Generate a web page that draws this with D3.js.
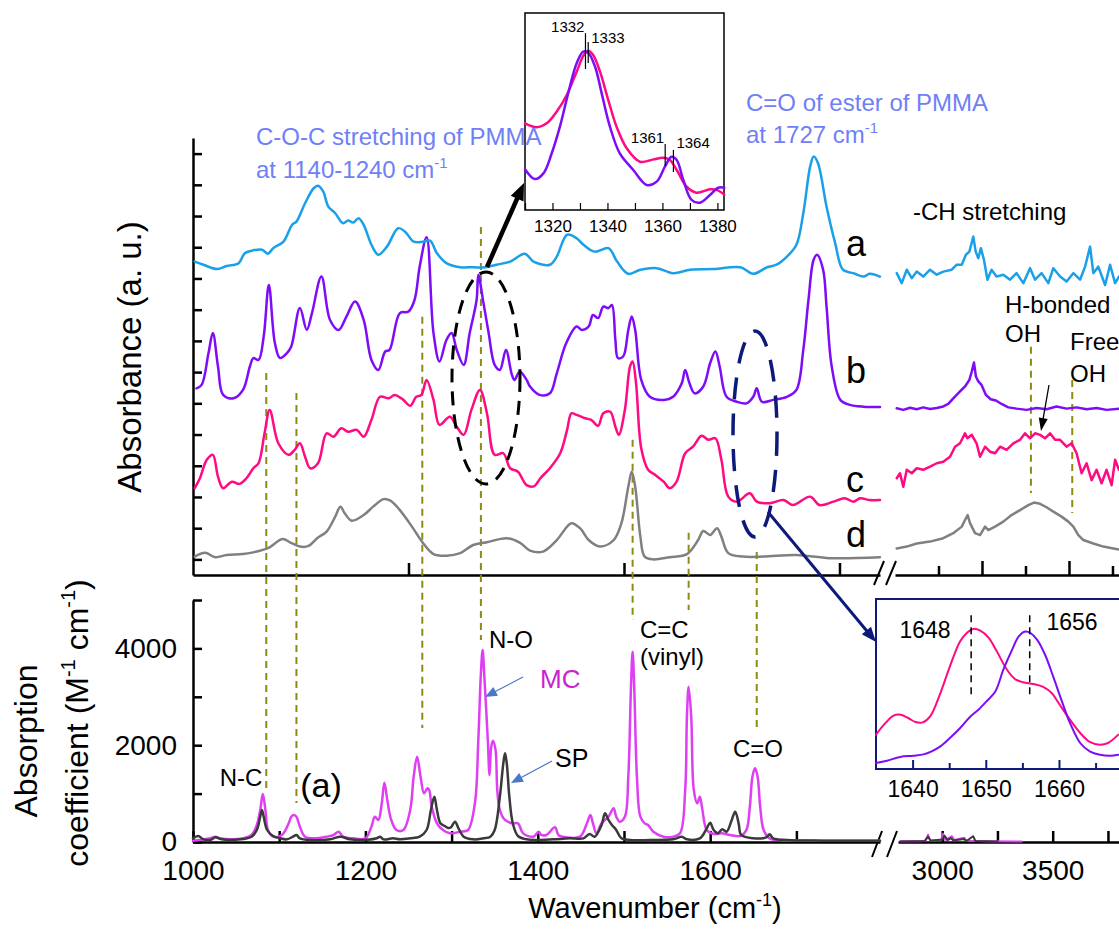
<!DOCTYPE html>
<html>
<head>
<meta charset="utf-8">
<script src="https://cdn.jsdelivr.net/npm/d3@7"></script>
<style>
  body { margin: 0; background: #fff; }
  svg { display: block; }
  text { font-family: "Liberation Sans", Arial, Helvetica, sans-serif; fill: #000; }
</style>
</head>
<body>
<svg id="chart" width="1119" height="929"></svg>
<script>
// ------------------------------------------------------------
// Data: FTIR spectra (upper, a.u.) and computed spectra (lower)
// ------------------------------------------------------------

// upper panel, 1000-1800 cm-1, [wavenumber, absorbance a.u.]
const specA = [[1002,10.04],[1012,9.94],[1028,9.80],[1039,9.90],[1053,9.99],[1060,10.31],[1068,10.39],[1080,10.42],[1087,10.29],[1093,10.47],[1105,10.68],[1115,11.22],[1120,11.32],[1130,11.91],[1140,12.39],[1145,12.47],[1151,12.29],[1157,11.80],[1165,11.59],[1174,11.27],[1180,11.36],[1186,11.29],[1192,11.43],[1198,11.22],[1207,10.58],[1215,10.26],[1225,10.52],[1238,11.11],[1246,11.00],[1256,10.68],[1267,10.68],[1275,10.71],[1283,10.31],[1294,9.99],[1310,9.86],[1325,9.86],[1337,9.85],[1352,9.94],[1368,10.04],[1385,10.29],[1395,10.04],[1414,9.94],[1422,10.20],[1434,10.90],[1445,10.79],[1453,10.58],[1466,10.36],[1482,10.47],[1492,10.04],[1505,9.65],[1519,9.78],[1538,9.83],[1557,9.67],[1577,9.78],[1604,9.80],[1635,9.86],[1650,9.65],[1666,9.86],[1677,9.94],[1689,10.20],[1700,10.58],[1708,11.59],[1716,13.09],[1720,13.41],[1725,13.20],[1735,11.80],[1745,10.63],[1754,9.78],[1766,9.67],[1778,9.56],[1785,9.65],[1797,9.56]];

const specB = [[1004,5.98],[1010,6.09],[1018,7.11],[1023,7.75],[1029,6.68],[1035,5.77],[1047,5.66],[1058,5.93],[1066,6.68],[1070,6.95],[1076,6.89],[1082,7.64],[1088,9.29],[1095,7.43],[1101,6.95],[1109,7.11],[1114,7.32],[1124,8.55],[1132,7.85],[1138,8.39],[1149,9.56],[1159,8.17],[1169,7.85],[1178,8.28],[1188,8.76],[1198,8.17],[1207,6.89],[1215,6.57],[1223,7.16],[1228,7.21],[1240,8.39],[1250,8.44],[1257,8.81],[1263,9.88],[1271,10.82],[1279,7.75],[1286,6.84],[1294,7.53],[1300,7.75],[1306,7.21],[1314,6.73],[1321,7.75],[1329,8.81],[1331,9.62],[1337,8.71],[1343,7.75],[1350,6.73],[1356,6.57],[1363,7.21],[1370,6.41],[1373,6.25],[1379,6.52],[1387,6.25],[1391,6.04],[1402,5.77],[1414,5.82],[1422,6.46],[1433,7.43],[1445,7.96],[1451,7.85],[1459,7.96],[1464,8.33],[1470,8.23],[1476,8.60],[1482,8.55],[1486,8.65],[1490,7.53],[1493,6.95],[1499,7.00],[1505,7.85],[1509,8.28],[1513,7.85],[1520,6.25],[1530,5.71],[1546,5.61],[1557,5.71],[1567,6.14],[1571,6.57],[1576,6.14],[1582,5.82],[1592,6.04],[1600,6.79],[1606,7.16],[1611,6.68],[1619,5.71],[1631,5.55],[1642,5.50],[1650,5.71],[1654,5.98],[1660,5.55],[1673,5.61],[1689,5.71],[1700,5.93],[1708,7.21],[1714,8.81],[1720,10.10],[1724,10.26],[1731,9.78],[1735,8.60],[1741,6.68],[1751,5.61],[1762,5.45],[1778,5.39],[1797,5.38]];

const specC = [[1002,2.78],[1008,3.10],[1016,3.69],[1023,3.85],[1029,3.15],[1035,2.78],[1045,2.99],[1054,2.92],[1062,3.10],[1070,3.42],[1076,3.58],[1083,4.54],[1089,5.29],[1099,4.22],[1111,3.85],[1118,4.01],[1124,4.22],[1130,3.79],[1136,3.42],[1145,3.58],[1155,4.54],[1163,4.43],[1172,4.70],[1180,4.59],[1190,4.65],[1198,4.43],[1207,4.97],[1217,5.71],[1227,5.66],[1234,5.77],[1244,5.61],[1252,5.42],[1259,5.71],[1265,5.77],[1271,6.25],[1279,5.61],[1286,4.81],[1298,5.07],[1306,4.75],[1314,4.49],[1323,5.29],[1333,5.93],[1341,5.18],[1350,3.85],[1360,3.90],[1368,3.42],[1377,3.31],[1387,2.88],[1396,2.85],[1403,3.10],[1414,3.42],[1426,3.90],[1434,4.65],[1439,5.18],[1445,5.13],[1455,5.02],[1462,4.97],[1470,4.78],[1476,5.18],[1484,5.23],[1490,4.75],[1494,4.49],[1501,5.29],[1507,6.68],[1510,6.84],[1514,6.14],[1520,4.06],[1528,3.37],[1536,3.21],[1546,2.99],[1553,2.78],[1561,2.99],[1571,3.90],[1580,4.11],[1590,4.46],[1598,4.33],[1606,4.38],[1613,3.69],[1621,2.51],[1631,2.35],[1646,2.62],[1654,2.35],[1669,2.30],[1685,2.40],[1696,2.24],[1716,2.51],[1727,2.24],[1743,2.35],[1756,2.46],[1766,2.35],[1774,2.46],[1785,2.40],[1797,2.40]];

const specD = [[1002,0.59],[1014,0.71],[1026,0.57],[1039,0.64],[1058,0.67],[1074,0.75],[1087,0.86],[1104,1.15],[1113,1.04],[1124,0.91],[1134,0.93],[1144,1.18],[1155,1.39],[1165,1.87],[1171,2.19],[1176,1.98],[1184,1.74],[1198,1.92],[1209,2.19],[1221,2.43],[1229,2.38],[1240,2.08],[1254,1.55],[1267,1.02],[1279,0.67],[1294,0.62],[1310,0.70],[1325,0.96],[1341,1.05],[1364,1.18],[1379,1.04],[1391,0.78],[1406,0.75],[1422,1.12],[1434,1.55],[1439,1.66],[1449,1.50],[1459,1.12],[1472,0.91],[1488,1.12],[1497,1.66],[1505,2.83],[1509,3.31],[1513,2.83],[1519,1.23],[1524,0.59],[1534,0.50],[1553,0.57],[1573,0.67],[1586,1.12],[1592,1.41],[1600,1.28],[1608,1.50],[1613,1.23],[1621,0.70],[1638,0.59],[1662,0.59],[1700,0.64],[1739,0.54],[1797,0.57]];

// upper panel, 2800-3830 cm-1
const specAHigh = [[2808,9.67],[2831,9.35],[2854,9.78],[2877,9.51],[2900,9.72],[2930,9.56],[2961,9.78],[2992,9.62],[3022,9.72],[3061,9.78],[3084,9.94],[3107,9.94],[3126,10.26],[3142,10.36],[3160,10.84],[3171,10.36],[3183,10.15],[3195,10.47],[3209,10.10],[3225,9.46],[3244,9.78],[3267,9.56],[3298,9.62],[3329,9.46],[3359,9.67],[3390,9.35],[3421,9.83],[3444,9.46],[3474,9.67],[3505,9.35],[3528,9.83],[3559,9.56],[3589,9.40],[3620,9.67],[3651,9.46],[3674,9.88],[3697,10.52],[3712,9.67],[3735,9.88],[3766,9.29],[3789,9.94],[3812,9.35],[3830,9.56]];

const specBHigh = [[2808,5.34],[2838,5.29],[2869,5.36],[2900,5.31],[2930,5.37],[2961,5.32],[2992,5.35],[3022,5.40],[3045,5.48],[3068,5.66],[3099,5.88],[3122,6.04],[3142,6.25],[3153,6.52],[3163,6.81],[3172,6.36],[3183,6.20],[3198,6.09],[3218,5.77],[3240,5.63],[3264,5.59],[3290,5.48],[3321,5.37],[3359,5.33],[3405,5.29],[3451,5.35],[3497,5.31],[3543,5.40],[3589,5.33],[3635,5.37],[3681,5.31],[3727,5.35],[3773,5.29],[3830,5.33]];

const specCHigh = [[2808,3.10],[2823,3.26],[2838,2.83],[2854,3.37],[2877,3.26],[2900,3.42],[2930,3.37],[2961,3.47],[2992,3.58],[3022,3.63],[3053,3.79],[3076,4.11],[3099,4.22],[3122,4.54],[3133,4.38],[3153,4.49],[3175,4.22],[3191,3.79],[3214,4.11],[3237,3.95],[3260,3.90],[3283,4.11],[3313,4.01],[3344,4.22],[3375,4.33],[3398,4.54],[3421,4.38],[3444,4.54],[3467,4.49],[3490,4.38],[3513,4.54],[3536,4.33],[3559,4.33],[3589,4.11],[3612,4.22],[3635,3.90],[3658,3.26],[3681,3.58],[3704,3.04],[3727,3.37],[3750,2.94],[3773,3.37],[3796,2.88],[3812,3.69],[3830,3.37]];

const specDHigh = [[2808,0.85],[2854,0.91],[2900,1.01],[2961,1.07],[3022,1.18],[3068,1.34],[3107,1.55],[3122,1.76],[3134,1.92],[3145,1.66],[3168,1.34],[3191,1.28],[3214,1.55],[3229,1.44],[3260,1.55],[3298,1.71],[3336,1.92],[3375,2.08],[3413,2.24],[3439,2.32],[3467,2.28],[3497,2.17],[3528,2.03],[3566,1.87],[3597,1.71],[3620,1.55],[3643,1.28],[3666,1.12],[3712,1.01],[3758,0.91],[3804,0.85],[3830,0.82]];

// lower panel, absorption coefficient (M-1 cm-1)
const mcLow = [[1000,28],[1008,41],[1020,76],[1026,110],[1031,76],[1047,55],[1058,76],[1068,145],[1074,351],[1078,661],[1081,992],[1084,661],[1087,248],[1093,110],[1103,145],[1111,386],[1114,523],[1117,558],[1120,523],[1124,317],[1130,110],[1143,76],[1155,110],[1163,145],[1169,213],[1174,110],[1186,76],[1200,76],[1207,317],[1211,523],[1215,455],[1219,799],[1222,1226],[1226,799],[1230,455],[1236,248],[1244,248],[1252,661],[1256,1350],[1260,1763],[1264,1350],[1268,1006],[1272,1109],[1274,1074],[1277,730],[1283,386],[1290,248],[1298,179],[1310,213],[1319,248],[1327,799],[1331,2107],[1334,3485],[1336,3967],[1338,3416],[1342,2107],[1344,1384],[1346,1970],[1348,2094],[1351,1901],[1353,1074],[1356,661],[1362,455],[1370,386],[1377,386],[1383,179],[1395,110],[1401,213],[1404,145],[1410,145],[1420,303],[1424,145],[1433,96],[1449,110],[1457,386],[1461,558],[1464,386],[1468,179],[1474,386],[1482,523],[1488,696],[1491,523],[1495,420],[1501,523],[1505,1350],[1508,3140],[1510,3933],[1512,3140],[1515,1350],[1519,523],[1524,386],[1528,351],[1534,213],[1546,110],[1557,110],[1565,179],[1571,1074],[1573,2590],[1575,3209],[1578,2590],[1581,1074],[1585,799],[1588,937],[1591,661],[1596,248],[1604,165],[1613,179],[1623,145],[1635,124],[1642,248],[1646,730],[1649,1350],[1652,1522],[1655,1350],[1658,730],[1662,248],[1669,76],[1681,41],[1712,28],[1797,28]];

const spLow = [[1000,76],[1006,124],[1012,55],[1020,41],[1026,96],[1033,55],[1055,55],[1068,110],[1074,248],[1078,523],[1080,661],[1082,523],[1086,248],[1093,124],[1101,76],[1109,55],[1116,110],[1120,145],[1124,76],[1136,41],[1159,55],[1171,110],[1182,55],[1198,41],[1213,76],[1217,110],[1221,55],[1232,76],[1240,55],[1252,76],[1263,110],[1271,248],[1276,661],[1280,937],[1283,661],[1287,386],[1292,330],[1296,290],[1299,300],[1304,420],[1308,282],[1314,110],[1325,55],[1337,76],[1345,110],[1350,248],[1356,937],[1360,1625],[1362,1832],[1364,1625],[1367,937],[1371,386],[1377,124],[1387,55],[1399,41],[1418,55],[1437,76],[1453,76],[1460,165],[1466,110],[1474,351],[1478,592],[1482,455],[1486,351],[1491,248],[1497,76],[1507,41],[1530,41],[1557,55],[1567,110],[1573,55],[1588,76],[1596,282],[1600,399],[1604,248],[1609,179],[1614,262],[1619,213],[1625,455],[1629,627],[1633,386],[1636,145],[1650,76],[1665,96],[1669,158],[1673,76],[1689,41],[1731,28],[1797,28]];

const mcHigh = [[2810,15],[2900,15],[2925,25],[2936,150],[2946,30],[2995,40],[3004,170],[3014,40],[3044,120],[3055,40],[3099,90],[3110,25],[3200,15],[3360,10]];
const spHigh = [[2810,10],[2920,20],[2936,110],[2948,25],[3000,50],[3010,130],[3025,40],[3040,80],[3050,30],[3099,60],[3110,20],[3140,120],[3150,20],[3250,10]];

// top inset (1310-1382 cm-1), normalised
const insetB = [[1310.0,0.207],[1313.6,0.157],[1316.7,0.186],[1319.7,0.287],[1322.7,0.423],[1325.7,0.592],[1328.8,0.745],[1331.2,0.804],[1333.0,0.798],[1335.5,0.727],[1337.9,0.592],[1340.9,0.423],[1344.5,0.287],[1349.4,0.203],[1354.3,0.127],[1357.9,0.144],[1360.9,0.220],[1363.3,0.270],[1365.2,0.254],[1367.6,0.152],[1370.6,0.051],[1373.6,0.037],[1377.3,0.076],[1380.3,0.113],[1382.5,0.113]];
const insetC = [[1310.0,0.440],[1314.3,0.420],[1317.9,0.440],[1321.5,0.499],[1325.2,0.584],[1328.8,0.702],[1331.2,0.782],[1333.0,0.809],[1334.8,0.787],[1337.3,0.702],[1340.3,0.558],[1343.3,0.423],[1347.0,0.313],[1351.8,0.245],[1356.7,0.257],[1360.3,0.265],[1362.7,0.254],[1365.2,0.203],[1368.8,0.118],[1372.4,0.088],[1377.3,0.105],[1379.7,0.102],[1382.5,0.078]];
const insetPeaks = [
  { w: 1332, y0: 0.716, y1: 0.898, label: "1332", side: "end",   lx: 0.0, ly: 0.906 },
  { w: 1333, y0: 0.746, y1: 0.853, label: "1333", side: "start", lx: 0.0, ly: 0.848 },
  { w: 1361, y0: 0.223, y1: 0.335, label: "1361", side: "end",   lx: 0.0, ly: 0.340 },
  { w: 1364, y0: 0.193, y1: 0.305, label: "1364", side: "start", lx: 0.0, ly: 0.315 }
];

// bottom-right inset (1635-1668 cm-1), normalised
const zoomC = [[1635.0,0.202],[1636.3,0.271],[1637.4,0.314],[1638.4,0.319],[1639.4,0.300],[1640.4,0.276],[1641.4,0.274],[1642.4,0.309],[1643.8,0.447],[1645.1,0.604],[1646.5,0.751],[1647.4,0.800],[1648.3,0.824],[1649.2,0.815],[1650.4,0.771],[1651.5,0.692],[1652.9,0.584],[1654.0,0.529],[1655.1,0.510],[1656.5,0.500],[1657.9,0.482],[1659.0,0.447],[1660.1,0.378],[1661.5,0.290],[1662.9,0.212],[1664.2,0.159],[1665.6,0.143],[1666.7,0.153],[1668.1,0.202]];
const zoomB = [[1635.0,0.035],[1636.5,0.049],[1638.3,0.071],[1640.1,0.078],[1641.5,0.086],[1642.6,0.104],[1643.8,0.133],[1645.1,0.182],[1646.5,0.241],[1647.9,0.309],[1649.0,0.349],[1650.1,0.398],[1651.3,0.456],[1652.4,0.584],[1653.6,0.702],[1654.5,0.780],[1655.4,0.809],[1656.1,0.800],[1657.0,0.761],[1658.1,0.672],[1659.2,0.545],[1660.4,0.398],[1661.5,0.271],[1662.9,0.153],[1664.2,0.104],[1665.6,0.084],[1667.0,0.078],[1668.1,0.084]];
const zoomPeaks = [1648, 1656];

// olive guide lines: wavenumber, top (upper a.u.), bottom (lower coefficient)
const guideLow = [
  { w: 1085, top: 6.47, bottom: 1074 },
  { w: 1120, top: 5.83, bottom: 806 },
  { w: 1266, top: 8.27, bottom: 2355 },
  { w: 1334, top: 11.15, bottom: 4174 },
  { w: 1510, top: 4.33, bottom: 4587 },
  { w: 1575, top: 1.35, bottom: 4793 },
  { w: 1654, top: 0.74, bottom: 2314 }
];
const guideHigh = [
  { w: 3425, top: 7.31, bottom: 2.63 },
  { w: 3615, top: 6.25, bottom: 1.99 }
];

// ticks
const upperTicksX = [1250, 1500, 1750];
const upperTicksXHigh = [3000, 3200, 3400, 3600, 3800];
const upperTicksY = d3.range(0.5, 14, 1);
const lowerTicksX = [1000, 1100, 1200, 1300, 1400, 1500, 1600, 1700];
const lowerTicksXHigh = [3000, 3250, 3500, 3750];
const lowerTicksY = [0, 1000, 2000, 3000, 4000, 5000];
const insetTicks = [1310, 1320, 1330, 1340, 1350, 1360, 1370, 1380];
const zoomTicks = [1640, 1645, 1650, 1655, 1660, 1665];

// colours
const colA = "#1aa0e8", colB = "#7d0cf7", colC = "#ff0a82", colD = "#808080";
const colMC = "#df3ff3", colSP = "#3a3a3a", olive = "#8c8c14", navy = "#0d1a7a";
const annBlue = "#6f80f7", arrowBlue = "#4a78c8";

// ------------------------------------------------------------
// Scales
// ------------------------------------------------------------
const svg = d3.select("#chart");

const xL = d3.scaleLinear().domain([1000, 1797]).range([193, 880]);
const xHU = d3.scaleLinear().domain([2800, 3830]).range([895, 1119]);
const xHL = d3.scaleLinear().domain([2800, 3800]).range([898, 1119]);
const yU = d3.scaleLinear().domain([0, 14]).range([575, 138]);
const yLo = d3.scaleLinear().domain([0, 5000]).range([842, 600]);
const xIn = d3.scaleLinear().domain([1310, 1382.4]).range([525, 724]);
const yIn = d3.scaleLinear().domain([0, 1]).range([210, 13]);
const xZm = d3.scaleLinear().domain([1635, 1668.2]).range([876, 1119]);
const yZm = d3.scaleLinear().domain([0, 1]).range([769, 599]);

const smooth = d3.curveCatmullRom.alpha(0.5);

function drawSeries(g, data, xs, ys, color, width, curve) {
  g.append("path")
    .datum(data)
    .attr("fill", "none")
    .attr("stroke", color)
    .attr("stroke-width", width)
    .attr("stroke-linejoin", "round")
    .attr("stroke-linecap", "round")
    .attr("d", d3.line().x(d => xs(d[0])).y(d => ys(d[1])).curve(curve || smooth));
}

function drawArrow(g, x1, y1, x2, y2, color, width, headLen, headW) {
  const dx = x2 - x1, dy = y2 - y1;
  const len = Math.sqrt(dx * dx + dy * dy);
  const ux = dx / len, uy = dy / len;
  const bx = x2 - ux * headLen, by = y2 - uy * headLen;
  g.append("line")
    .attr("x1", x1).attr("y1", y1).attr("x2", bx + ux * 2).attr("y2", by + uy * 2)
    .attr("stroke", color).attr("stroke-width", width);
  g.append("polygon")
    .attr("points", [[x2, y2], [bx - uy * headW / 2, by + ux * headW / 2], [bx + uy * headW / 2, by - ux * headW / 2]].map(p => p.join(",")).join(" "))
    .attr("fill", color);
}

// text with a "-1" superscript after the main part
function supLabel(g, x, y, main, sup, tail, size, color, anchor) {
  const t = g.append("text")
    .attr("x", x).attr("y", y)
    .attr("font-size", size)
    .attr("text-anchor", anchor || "start")
    .style("fill", color || "#000");
  t.append("tspan").text(main);
  t.append("tspan").attr("dy", -size * 0.42).attr("font-size", size * 0.62).text(sup);
  if (tail) t.append("tspan").attr("dy", size * 0.42).text(tail);
  return t;
}

function styleAxis(g, w) {
  g.select(".domain").attr("stroke", "#000").attr("stroke-width", w);
  g.selectAll(".tick line").attr("stroke", "#000").attr("stroke-width", w);
}

// ------------------------------------------------------------
// Upper panel axes
// ------------------------------------------------------------
const upper = svg.append("g");

const axUx = upper.append("g").attr("transform", "translate(0,575)")
  .call(d3.axisBottom(xL).tickValues(upperTicksX).tickSize(-12).tickSizeOuter(0).tickFormat(""));
styleAxis(axUx, 2.5);
const axUxH = upper.append("g").attr("transform", "translate(0,575)")
  .call(d3.axisBottom(xHU).tickValues(upperTicksXHigh).tickSize(-9).tickSizeOuter(0).tickFormat(""));
styleAxis(axUxH, 2.5);
axUxH.selectAll(".tick line").attr("y2", (d, i) => (i % 2 === 1 ? -14 : -9));
const axUy = upper.append("g").attr("transform", "translate(193,0)")
  .call(d3.axisLeft(yU).tickValues(upperTicksY).tickSize(-9).tickSizeOuter(0).tickFormat(""));
styleAxis(axUy, 2.5);

// axis break marks
[[874, 585, 884, 561], [886, 585, 896, 561]].forEach(s => {
  svg.append("line").attr("x1", s[0]).attr("y1", s[1]).attr("x2", s[2]).attr("y2", s[3])
    .attr("stroke", "#000").attr("stroke-width", 2);
});

// ------------------------------------------------------------
// Lower panel axes
// ------------------------------------------------------------
const lower = svg.append("g");

const axLx = lower.append("g").attr("transform", "translate(0,842)")
  .call(d3.axisBottom(xL).tickValues(lowerTicksX).tickSize(-11).tickSizeOuter(0).tickPadding(18)
    .tickFormat(d => (d % 200 === 0 ? d : "")));
styleAxis(axLx, 2.5);
const axLxH = lower.append("g").attr("transform", "translate(0,842)")
  .call(d3.axisBottom(xHL).tickValues(lowerTicksXHigh).tickSize(-11).tickSizeOuter(0).tickPadding(18)
    .tickFormat(d => (d % 500 === 0 ? d : "")));
styleAxis(axLxH, 2.5);
const axLy = lower.append("g").attr("transform", "translate(193,0)")
  .call(d3.axisLeft(yLo).tickValues(lowerTicksY).tickSize(-9).tickSizeOuter(0).tickPadding(16)
    .tickFormat(d => (d % 2000 === 0 ? d : "")));
styleAxis(axLy, 2.5);
svg.selectAll(".tick text").attr("font-size", 28).attr("font-family", "'Liberation Sans', Arial, sans-serif").style("fill", "#000");

[[872, 857, 882, 831], [887, 857, 897, 831]].forEach(s => {
  svg.append("line").attr("x1", s[0]).attr("y1", s[1]).attr("x2", s[2]).attr("y2", s[3])
    .attr("stroke", "#000").attr("stroke-width", 2);
});

// ------------------------------------------------------------
// Olive guide lines (span both panels)
// ------------------------------------------------------------
const guides = svg.append("g")
  .attr("stroke", olive).attr("stroke-width", 2).attr("stroke-dasharray", "7,5");
guideLow.forEach(d => {
  guides.append("line")
    .attr("x1", xL(d.w)).attr("x2", xL(d.w))
    .attr("y1", yU(d.top)).attr("y2", yLo(d.bottom));
});
guideHigh.forEach(d => {
  guides.append("line")
    .attr("x1", xHU(d.w)).attr("x2", xHU(d.w))
    .attr("y1", yU(d.top)).attr("y2", yU(d.bottom));
});

// ------------------------------------------------------------
// Spectra
// ------------------------------------------------------------
const curves = svg.append("g");
drawSeries(curves, specD, xL, yU, colD, 2.5);
drawSeries(curves, specC, xL, yU, colC, 2.5);
drawSeries(curves, specB, xL, yU, colB, 2.5);
drawSeries(curves, specA, xL, yU, colA, 2.5);
drawSeries(curves, specDHigh, xHU, yU, colD, 2.5, d3.curveLinear);
drawSeries(curves, specCHigh, xHU, yU, colC, 2.5, d3.curveLinear);
drawSeries(curves, specBHigh, xHU, yU, colB, 2.5, d3.curveLinear);
drawSeries(curves, specAHigh, xHU, yU, colA, 2.5, d3.curveLinear);

drawSeries(curves, mcLow, xL, yLo, colMC, 2.5);
drawSeries(curves, spLow, xL, yLo, colSP, 2.5);
drawSeries(curves, mcHigh, xHL, yLo, colMC, 2, d3.curveLinear);
drawSeries(curves, spHigh, xHL, yLo, colSP, 2, d3.curveLinear);

// ------------------------------------------------------------
// Top inset
// ------------------------------------------------------------
const inset = svg.append("g");
inset.append("rect").attr("x", 525).attr("y", 13).attr("width", 199).attr("height", 197)
  .attr("fill", "#fff").attr("stroke", "#000").attr("stroke-width", 1.5);
const axIn = inset.append("g").attr("transform", "translate(0,210)")
  .call(d3.axisBottom(xIn).tickValues(insetTicks).tickSize(-7).tickSizeOuter(0).tickPadding(10)
    .tickFormat(d => (d % 20 === 0 ? d : "")));
axIn.select(".domain").remove();
axIn.selectAll(".tick line").attr("stroke", "#000").attr("stroke-width", 1.2);
axIn.selectAll(".tick text").attr("font-size", 17).style("fill", "#000");
drawSeries(inset, insetC, xIn, yIn, colC, 2.5);
drawSeries(inset, insetB, xIn, yIn, colB, 2.5);
insetPeaks.forEach(p => {
  inset.append("line").attr("x1", xIn(p.w)).attr("x2", xIn(p.w))
    .attr("y1", yIn(p.y0)).attr("y2", yIn(p.y1))
    .attr("stroke", "#000").attr("stroke-width", 1.2);
  inset.append("text")
    .attr("x", xIn(p.w) + (p.side === "end" ? -1 : 3))
    .attr("y", yIn(p.ly))
    .attr("text-anchor", p.side)
    .attr("font-size", 15)
    .text(p.label);
});

// ------------------------------------------------------------
// Bottom-right inset
// ------------------------------------------------------------
const zoomG = svg.append("g");
zoomG.append("rect").attr("x", 876).attr("y", 599).attr("width", 260).attr("height", 170)
  .attr("fill", "#fff").attr("stroke", navy).attr("stroke-width", 2);
const axZm = zoomG.append("g").attr("transform", "translate(0,769)")
  .call(d3.axisBottom(xZm).tickValues(zoomTicks).tickSize(-7).tickSizeOuter(0).tickPadding(12)
    .tickFormat(d => (d % 10 === 0 ? d : "")));
axZm.select(".domain").remove();
axZm.selectAll(".tick line").attr("stroke", navy).attr("stroke-width", 2)
  .attr("y2", d => (d % 10 === 0 ? -9 : -6));
axZm.selectAll(".tick text").attr("font-size", 23).style("fill", "#000");
drawSeries(zoomG, zoomC, xZm, yZm, colC, 2);
drawSeries(zoomG, zoomB, xZm, yZm, colB, 2);
zoomPeaks.forEach(w => {
  zoomG.append("line").attr("x1", xZm(w)).attr("x2", xZm(w))
    .attr("y1", yZm(0.44)).attr("y2", yZm(0.91))
    .attr("stroke", "#000").attr("stroke-width", 1.5).attr("stroke-dasharray", "7,5");
});
zoomG.append("text").attr("x", 925).attr("y", 638).attr("text-anchor", "middle").attr("font-size", 23).text("1648");
zoomG.append("text").attr("x", 1072).attr("y", 630).attr("text-anchor", "middle").attr("font-size", 23).text("1656");

// ------------------------------------------------------------
// Ellipses and arrows
// ------------------------------------------------------------
const ann = svg.append("g");
ann.append("ellipse").attr("cx", 486).attr("cy", 378).attr("rx", 34).attr("ry", 106)
  .attr("fill", "none").attr("stroke", "#000").attr("stroke-width", 3).attr("stroke-dasharray", "14,9");
ann.append("ellipse").attr("cx", 755).attr("cy", 434).attr("rx", 22).attr("ry", 103)
  .attr("fill", "none").attr("stroke", navy).attr("stroke-width", 3.5).attr("stroke-dasharray", "22,14");

drawArrow(ann, 487, 267, 524, 183, "#000", 4.5, 17, 14);
drawArrow(ann, 768, 512, 876, 642, navy, 3, 15, 12);
drawArrow(ann, 523, 677, 485, 697, arrowBlue, 1.2, 12, 10);
drawArrow(ann, 552, 761, 511, 783, arrowBlue, 1.2, 12, 10);
drawArrow(ann, 1049, 385, 1041, 431, "#000", 1.3, 13, 9);

// ------------------------------------------------------------
// Labels
// ------------------------------------------------------------
const lab = svg.append("g");

lab.append("text").attr("x", 256).attr("y", 145).attr("font-size", 24).style("fill", annBlue)
  .text("C-O-C stretching of PMMA");
supLabel(lab, 256, 178, "at 1140-1240 cm", "-1", null, 24, annBlue);
lab.append("text").attr("x", 746).attr("y", 111).attr("font-size", 24).style("fill", annBlue)
  .text("C=O of ester of PMMA");
supLabel(lab, 746, 143, "at 1727 cm", "-1", null, 24, annBlue);

lab.append("text").attr("x", 913).attr("y", 220).attr("font-size", 24).text("-CH stretching");
lab.append("text").attr("x", 1005).attr("y", 313).attr("font-size", 24).text("H-bonded");
lab.append("text").attr("x", 1005).attr("y", 342).attr("font-size", 24).text("OH");
lab.append("text").attr("x", 1070).attr("y", 350).attr("font-size", 24).text("Free");
lab.append("text").attr("x", 1070).attr("y", 382).attr("font-size", 24).text("OH");

[["a", 256], ["b", 383], ["c", 492], ["d", 547]].forEach(d => {
  lab.append("text").attr("x", 846).attr("y", d[1]).attr("font-size", 36).text(d[0]);
});

lab.append("text").attr("x", 241).attr("y", 786).attr("text-anchor", "middle").attr("font-size", 24).text("N-C");
lab.append("text").attr("x", 321).attr("y", 797).attr("text-anchor", "middle").attr("font-size", 34).text("(a)");
lab.append("text").attr("x", 489).attr("y", 648).attr("font-size", 24).text("N-O");
lab.append("text").attr("x", 640).attr("y", 638).attr("font-size", 24).text("C=C");
lab.append("text").attr("x", 640).attr("y", 665).attr("font-size", 24).text("(vinyl)");
lab.append("text").attr("x", 733).attr("y", 757).attr("font-size", 24).text("C=O");
lab.append("text").attr("x", 540).attr("y", 688).attr("font-size", 26)
  .attr("font-family", "'Open Sans', 'Noto Sans', sans-serif").style("fill", "#cc22cc").text("MC");
lab.append("text").attr("x", 555).attr("y", 767).attr("font-size", 25)
  .attr("font-family", "'Open Sans', 'Noto Sans', sans-serif").text("SP");

// axis titles
lab.append("text").attr("transform", "translate(141,357) rotate(-90)")
  .attr("text-anchor", "middle").attr("font-size", 33).text("Absorbance (a. u.)");
lab.append("text").attr("transform", "translate(37,741) rotate(-90)")
  .attr("text-anchor", "middle").attr("font-size", 32).text("Absorption");
const ct = lab.append("text").attr("transform", "translate(88,723) rotate(-90)")
  .attr("text-anchor", "middle").attr("font-size", 32);
ct.append("tspan").text("coefficient (M");
ct.append("tspan").attr("dy", -13).attr("font-size", 20).text("-1");
ct.append("tspan").attr("dy", 13).text(" cm");
ct.append("tspan").attr("dy", -13).attr("font-size", 20).text("-1");
ct.append("tspan").attr("dy", 13).text(")");

supLabel(lab, 655, 918, "Wavenumber (cm", "-1", ")", 29, "#000", "middle");
</script>
</body>
</html>
